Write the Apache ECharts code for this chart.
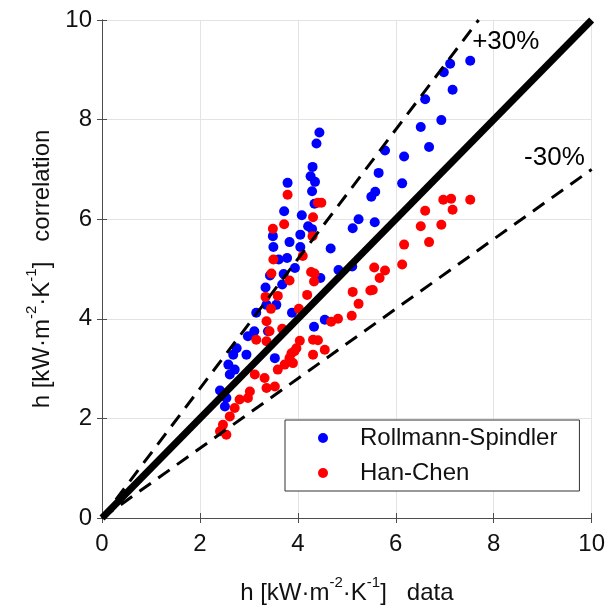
<!DOCTYPE html>
<html>
<head>
<meta charset="utf-8">
<script src="https://cdn.jsdelivr.net/npm/echarts@6/dist/echarts.min.js"></script>
<style>html,body{margin:0;padding:0;background:#fff}#c{width:608px;height:610px}</style>
</head>
<body>
<div id="c"></div>
<script>
// Rollmann-Spindler correlation: [h data, h correlation]
const rollmannSpindler = [
  [7.52,9.18],[7.11,9.12],[6.98,8.95],[7.16,8.60],[6.60,8.41],[6.93,7.99],[6.51,7.85],[6.68,7.45],
  [5.78,7.38],[6.17,7.26],[5.65,6.93],[6.13,6.72],[5.58,6.55],[5.50,6.45],[5.24,6.00],[5.12,5.82],
  [5.57,5.94],[4.67,5.41],[4.83,4.98],[5.11,5.05],[4.55,3.98],
  [4.44,7.74],[4.38,7.52],[4.30,7.05],[4.26,6.86],[4.35,6.75],[4.29,6.56],[4.34,6.31],[4.08,6.08],
  [4.21,5.86],[4.29,5.80],[4.05,5.69],[4.05,5.44],[4.46,4.82],
  [3.79,6.73],[3.72,6.16],
  [3.49,5.66],[3.83,5.54],[3.50,5.44],[3.78,5.22],[3.61,5.19],[3.94,5.02],[3.71,4.90],[3.43,4.87],
  [3.68,4.69],[3.34,4.63],[3.56,4.28],[3.36,4.28],[3.15,4.12],[3.88,4.12],[4.33,3.84],
  [2.98,3.65],[3.11,3.75],[3.39,3.75],[2.75,3.41],[2.68,3.28],[2.95,3.28],[2.58,3.08],[2.71,2.98],
  [2.61,2.88],[3.53,3.21],[2.41,2.56],[2.54,2.41],[2.51,2.24]
];
// Han-Chen correlation: [h data, h correlation]
const hanChen = [
  [7.52,6.39],[7.13,6.41],[6.97,6.39],[7.16,6.19],[6.60,6.17],[6.51,5.86],[6.93,5.89],[6.68,5.54],
  [6.17,5.49],[6.13,5.09],[5.56,5.03],[5.78,4.97],[5.67,4.82],[5.53,4.58],[5.12,4.54],[5.24,4.30],
  [5.48,4.57],[5.10,4.06],[4.82,4.00],[4.41,6.33],[4.48,6.33],[4.31,6.04],[4.30,5.66],[4.10,5.26],
  [4.27,4.94],[4.34,4.91],[4.33,4.75],[4.19,4.48],
  [3.79,6.49],[3.72,5.90],[3.49,5.81],
  [3.50,5.19],[3.46,4.91],[3.83,4.77],[3.59,4.46],[3.34,4.44],[3.45,4.20],[4.02,4.20],[3.36,3.95],[3.68,3.80],
  [3.15,3.58],[3.36,3.55],[3.42,3.75],[4.04,3.56],[3.93,3.35],[3.83,3.21],[3.73,3.08],[3.59,2.98],
  [4.31,3.58],[4.31,3.28],[3.12,2.88],[3.32,2.81],[3.36,2.61],[3.53,2.64],[3.02,2.54],[2.98,2.41],
  [2.81,2.38],[2.71,2.21],[2.61,2.04],[2.47,1.87],[2.41,1.74],[2.54,1.67],
  [4.68,3.94],[4.41,3.57],[3.97,3.41],[4.55,3.38],[3.87,3.31],[3.90,3.11]
];
// reference lines
const perfectLine = [[0,0],[10,10]];
const plus30Line = [[0,0],[10/1.3,10]];
const minus30Line = [[0,0],[10,7]];
// annotations [x, y, text]
const annotations = [[7.56,9.57,'+30%'],[8.62,7.23,'-30%']];
const axisMin = 0, axisMax = 10, axisStep = 2;

const FONT = "'Liberation Sans', Arial, sans-serif";
const TXT = '#111';
const AX = '#4d4d4d';
const rich = {
  b: {fontSize: 24, fontFamily: FONT, color: TXT, verticalAlign: 'bottom', lineHeight: 30},
  s: {fontSize: 15, fontFamily: FONT, color: TXT, verticalAlign: 'top', lineHeight: 30}
};
function unitName(suffix) {
  return '{b|h [kW·m}{s|-2}{b|·K}{s|-1}{b|]   ' + suffix + '}';
}
const chart = echarts.init(document.getElementById('c'), null, {renderer: 'canvas'});
const baseAxis = {
  type: 'value', min: axisMin, max: axisMax, interval: axisStep,
  axisLine: {show: true, lineStyle: {color: AX, width: 1}},
  axisTick: {show: true, inside: true, length: 5, lineStyle: {color: AX}},
  splitLine: {show: false}
};
chart.setOption({
  animation: false,
  backgroundColor: '#fff',
  grid: {left: 102, right: 15, top: 20, bottom: 90},
  legend: {
    data: ['Rollmann-Spindler', 'Han-Chen'],
    orient: 'vertical', left: 285, top: 420,
    icon: 'circle', itemWidth: 10, itemHeight: 10, itemGap: 9,
    padding: [5, 22, 5, 33],
    borderColor: '#333', borderWidth: 1, borderRadius: 0,
    backgroundColor: '#fff',
    formatter: name => '{g|}{t|' + name + '}',
    textStyle: {
      fontSize: 24, fontFamily: FONT, color: TXT, lineHeight: 26,
      rich: {
        g: {width: 27, height: 26},
        t: {fontSize: 24, fontFamily: FONT, color: TXT, lineHeight: 26}
      }
    }
  },
  xAxis: [
    Object.assign({}, baseAxis, {
      position: 'bottom',
      axisLabel: {fontSize: 24, fontFamily: FONT, color: TXT, margin: 14},
      splitLine: {show: true, lineStyle: {color: '#e3e3e3', width: 1}},
      name: unitName('data'), nameLocation: 'middle', nameGap: 57,
      nameTextStyle: {rich: rich}
    }),
    Object.assign({}, baseAxis, {position: 'top', axisLabel: {show: false}})
  ],
  yAxis: [
    Object.assign({}, baseAxis, {
      position: 'left',
      axisLabel: {fontSize: 24, fontFamily: FONT, color: TXT, margin: 10},
      splitLine: {show: true, lineStyle: {color: '#e3e3e3', width: 1}},
      name: unitName('correlation'), nameLocation: 'middle', nameGap: 46, nameRotate: 90,
      nameTextStyle: {rich: rich}
    }),
    Object.assign({}, baseAxis, {position: 'right', axisLabel: {show: false}})
  ],
  series: [
    {name: 'Rollmann-Spindler', type: 'scatter', data: rollmannSpindler, symbol: 'circle', symbolSize: 10,
     itemStyle: {color: '#0000ff', opacity: 1}, z: 2},
    {name: 'Han-Chen', type: 'scatter', data: hanChen, symbol: 'circle', symbolSize: 10,
     itemStyle: {color: '#ff0000', opacity: 1}, z: 2},
    {name: 'perfect', type: 'line', data: perfectLine, symbol: 'none', clip: true,
     lineStyle: {color: '#000', width: 7, cap: 'butt'}, z: 3},
    {name: 'plus30', type: 'line', data: plus30Line, symbol: 'none', clip: true,
     lineStyle: {color: '#000', width: 3, type: [14, 9], cap: 'butt'}, z: 3},
    {name: 'minus30', type: 'line', data: minus30Line, symbol: 'none', clip: true,
     lineStyle: {color: '#000', width: 3, type: [14, 9], cap: 'butt'}, z: 3},
    {name: 'annot', type: 'scatter', data: annotations, symbolSize: 0, silent: true,
     itemStyle: {opacity: 1, color: '#000'},
     label: {show: true, position: 'right', distance: 0, formatter: p => p.data[2],
             fontSize: 26, fontFamily: FONT, color: '#000', opacity: 1}, z: 4}
  ]
});
</script>
</body>
</html>
